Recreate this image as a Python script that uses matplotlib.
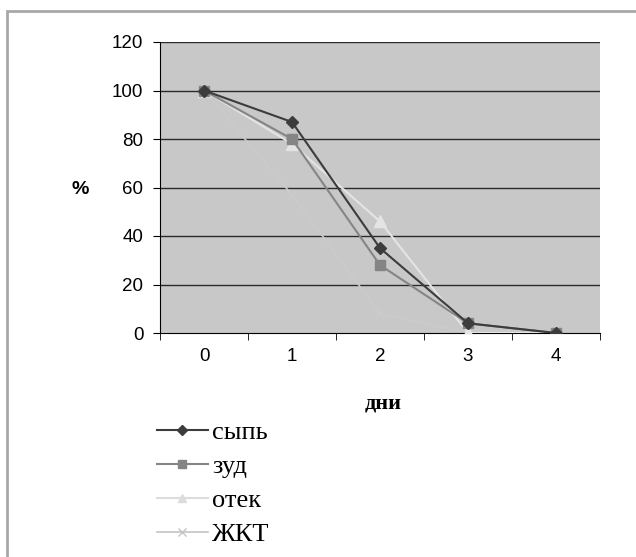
import matplotlib
matplotlib.use("Agg")
import matplotlib.pyplot as plt
from matplotlib.patches import Rectangle

days = [0, 1, 2, 3, 4]
rash = [100, 87, 35, 4, 0]      # сыпь
itch = [100, 80, 28, 4, 0]      # зуд
edema = [100, 78, 46, 0, 0]     # отек
gi = [100, 57, 8, 0, 0]         # ЖКТ
series_names = ["сыпь", "зуд", "отек", "ЖКТ"]
y_ticks = [0, 20, 40, 60, 80, 100, 120]

fig = plt.figure(figsize=(6.36, 5.57), dpi=100)
ax = fig.add_axes([160 / 636, 1 - 333 / 557, 440 / 636, 291 / 557])

# серая рамка вокруг всей диаграммы
fig.patches.append(Rectangle((7 / 636, -0.1), 1.0, 1 - 11 / 557 + 0.1,
                             transform=fig.transFigure, fill=False,
                             edgecolor="#a8a8a8", linewidth=2))

ax.set_facecolor("#c8c8c8")
for y in y_ticks[1:]:
    ax.axhline(y, color="#2a2a2a", linewidth=1, zorder=1)

ax.plot(days, gi, color="#cbcbcb", marker="x", markersize=7, linewidth=1.2, zorder=2)
ax.plot(days, edema, color="#e4e4e4", marker="^", markersize=8, linewidth=1.5, zorder=3)
ax.plot(days, itch, color="#858585", marker="s", markersize=7, linewidth=1.5, zorder=4)
ax.plot(days, rash, color="#3c3c3c", marker="D", markersize=6.5, linewidth=1.5, zorder=5)

ax.set_xlim(-0.5, 4.5)
ax.set_ylim(0, 120)
ax.set_yticks(y_ticks)
ax.set_xticks(days)
ax.set_xticks([d - 0.5 for d in days] + [4.5], minor=True)
ax.tick_params(axis="x", which="major", length=0, pad=11, labelsize=13.5)
ax.tick_params(axis="x", which="minor", length=5, direction="out", color="black")
ax.tick_params(axis="y", length=5, direction="out", labelsize=13.5, pad=7)
for lbl in ax.get_xticklabels() + ax.get_yticklabels():
    lbl.set_fontfamily("Liberation Sans")

ax.spines["top"].set_visible(False)
ax.spines["right"].set_visible(False)
ax.spines["left"].set_color("black")
ax.spines["bottom"].set_color("black")

fig.text(80 / 636, 1 - 190 / 557, "%", ha="center", va="center",
         fontsize=14, fontweight="bold", fontfamily="Liberation Sans")
fig.text(383 / 636, 1 - 404 / 557, "дни", ha="center", va="center",
         fontsize=16, fontweight="bold", fontfamily="Liberation Serif")

handles = ax.get_lines()[::-1]
leg = fig.legend(handles, series_names, loc="upper left",
                 bbox_to_anchor=(146 / 636, 1 - 410 / 557), frameon=False,
                 prop={"family": "Liberation Serif", "size": 19},
                 handlelength=1.95, handletextpad=0.15, labelspacing=0.4,
                 borderaxespad=0, markerscale=0.75)
leg.legend_handles[2].set_color("#dcdcdc")
leg.legend_handles[3].set_color("#c4c4c4")

fig.savefig("out.png", dpi=100)
